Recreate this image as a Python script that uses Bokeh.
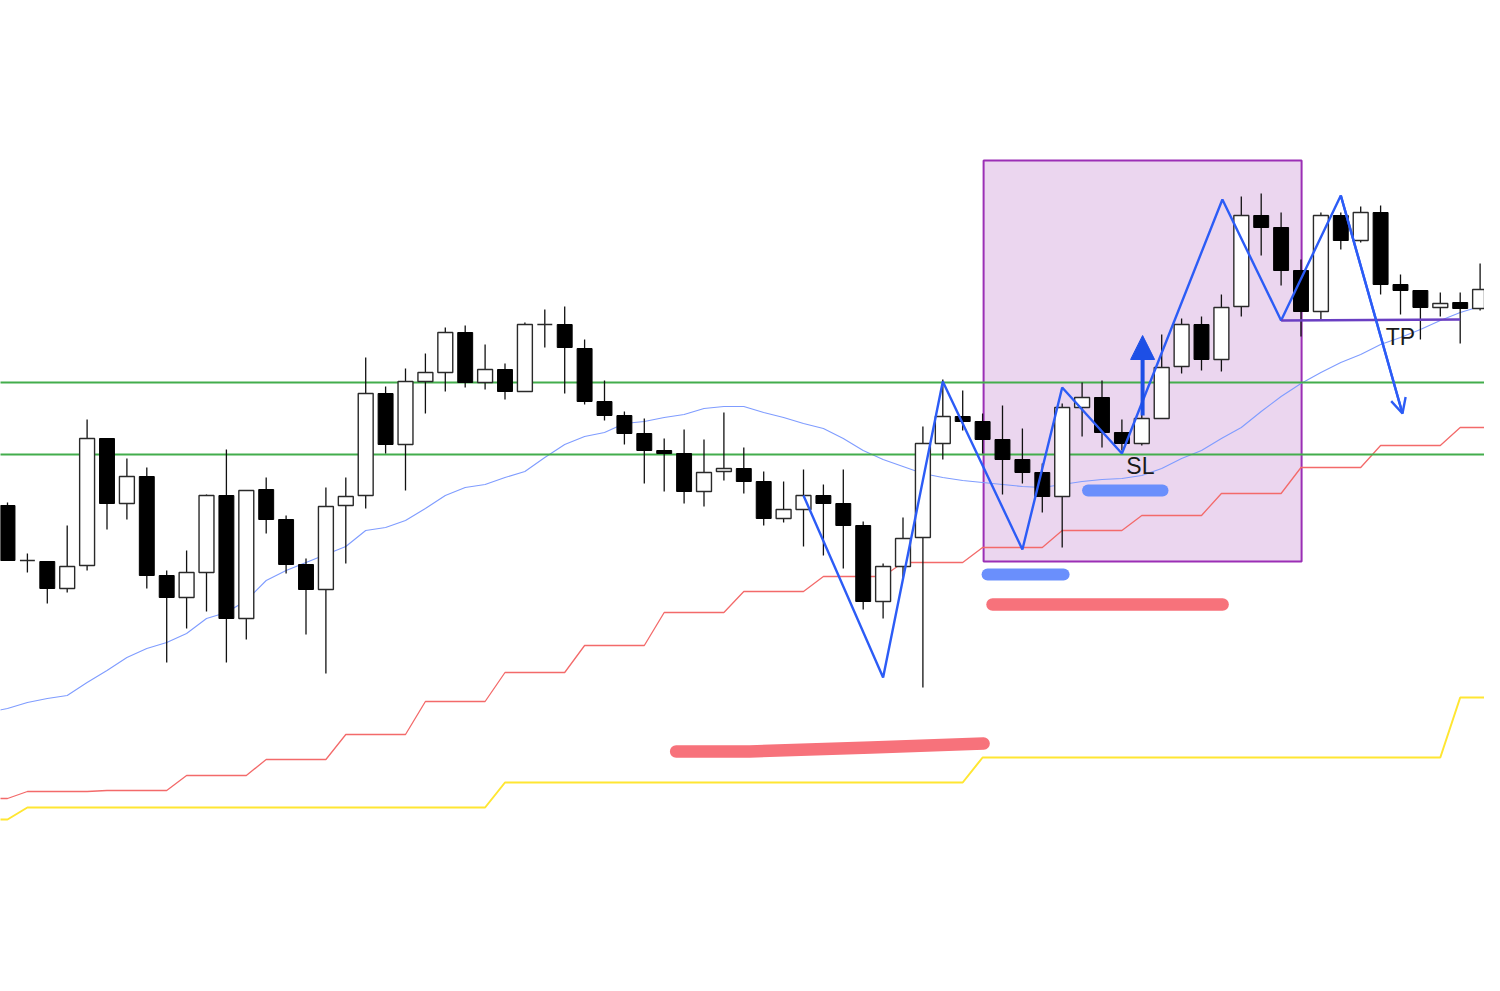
from bokeh.plotting import figure
from bokeh.models import Range1d, ColumnDataSource, Arrow, NormalHead, OpenHead
from bokeh.embed import file_html
from bokeh.resources import INLINE
from bokeh.core.properties import value

# ---------------- candle data (arbitrary price units) ----------------
open_ = [495, 440, 439, 412, 435, 562, 497, 524, 425, 403, 428, 505, 382, 511, 481, 436, 411, 495, 505, 607,
         556, 619, 628, 668, 618, 631, 609, 676, 676, 652, 599, 585, 567, 550, 547, 509, 529, 532, 519, 482,
         491, 505, 497, 475, 399, 434, 463, 557, 584, 579, 561, 541, 528, 504, 593, 603, 568, 557, 582, 634,
         676, 641, 694, 785, 773, 730, 689, 785, 760, 788, 716, 710, 693, 698, 692, 711]
high = [498, 447, 439, 475, 581, 562, 542, 533, 430, 450, 506, 551, 510, 523, 485, 442, 513, 523, 643, 614,
        632, 647, 673, 675, 656, 637, 678, 691, 694, 661, 620, 589, 582, 562, 571, 561, 588, 553, 529, 519,
        531, 516, 531, 479, 437, 483, 574, 621, 610, 587, 595, 572, 537, 597, 618, 620, 581, 634, 666, 682,
        684, 706, 804, 807, 788, 741, 788, 788, 794, 795, 726, 710, 708, 708, 737, 711]
low = [440, 428, 397, 408, 430, 471, 481, 412, 338, 372, 389, 338, 361, 467, 427, 366, 327, 437, 492, 547,
       510, 587, 609, 613, 611, 601, 609, 653, 607, 596, 580, 556, 517, 509, 497, 494, 520, 507, 475, 478,
       454, 445, 432, 391, 382, 423, 313, 541, 570, 547, 506, 517, 488, 453, 564, 553, 550, 555, 582, 627,
       630, 629, 684, 745, 715, 664, 681, 751, 758, 706, 686, 661, 684, 657, 690, 622]
close = [440, 440, 412, 434, 562, 497, 524, 425, 403, 428, 505, 382, 510, 481, 436, 411, 494, 504, 607, 556,
         619, 628, 668, 618, 631, 609, 676, 676, 653, 599, 585, 567, 550, 547, 509, 528, 532, 519, 482, 491,
         505, 497, 475, 399, 434, 462, 557, 584, 579, 561, 541, 528, 504, 593, 603, 568, 557, 582, 633, 676,
         641, 693, 785, 773, 730, 689, 785, 760, 788, 716, 710, 693, 697, 692, 711, 622]

# ---------------- indicator lines (index -1 .. 75) ----------------
ma_fast = [712, 708, 702, 698, 695, 682, 670, 657, 648, 642, 633, 618, 612, 600, 580, 570, 562, 554, 546, 530,
           527, 520, 508, 495, 487, 484, 477, 471, 457, 444, 436, 432, 423, 421, 417, 414, 408, 406, 406, 412,
           417, 423, 428, 438, 450, 459, 466, 473, 477, 480, 482, 484, 486, 487, 484, 481, 479, 478, 475, 468,
           458, 450, 438, 427, 411, 396, 383, 372, 362, 354, 344, 337, 329, 320, 312, 306, 303]
ma_fast = [1000 - v for v in ma_fast]
ma_step = ([202, 202] + [209] * 4 + [210] * 4 + [225] * 4 + [241] * 4 + [266] * 4 + [299] * 4 + [328] * 4
           + [355] * 4 + [388] * 4 + [409] * 4 + [424] * 4 + [438] * 4 + [453] * 4 + [470] * 4 + [485] * 4
           + [507] * 4 + [533] * 4 + [555] * 4 + [573] * 3)
ma_slow = [181, 181] + [193] * 24 + [218] * 24 + [243] * 24 + [303] * 3
ind_x = list(range(-1, 76))

# ---------------- annotations ----------------
levels = [618, 546]
zig_x = [40, 44, 47, 51, 53, 56, 61.05, 64, 67, 70.1]
zig_y = [505, 323, 619, 451, 613, 547, 801, 680, 805, 587]
zone = dict(left=49.05, right=65.03, bottom=439, top=840)
tp_x = [64, 73]
tp_y = [680, 681]
blue_bars = [([54.3, 58.04], [510, 510]), ([49.25, 53.07], [426, 426])]
red_bars = [([49.5, 61.06], [396, 396]), ([33.6, 37.3, 43.4, 49.05], [249, 249, 253, 257])]
up_arrow = dict(x=57.04, y0=585, y1=665)
labels_x = [56.93, 70.0]
labels_y = [535, 664]
labels = ["SL", "TP"]

idx = list(range(len(open_)))
bull = [i for i in idx if close[i] >= open_[i]]
bear = [i for i in idx if close[i] < open_[i]]


def sub(ids):
    return ColumnDataSource(dict(
        x=[idx[i] for i in ids],
        top=[max(open_[i], close[i]) for i in ids],
        bottom=[min(open_[i], close[i]) for i in ids],
        high=[high[i] for i in ids],
        low=[low[i] for i in ids],
    ))


W, H = 1484, 975
p = figure(width=W, height=H,
           x_range=Range1d(-7 / 19.9, (W - 7) / 19.9), y_range=Range1d(1000 - H, 1000),
           output_backend="svg", toolbar_location=None, min_border=0,
           x_axis_location=None, y_axis_location=None)
p.xgrid.visible = False
p.ygrid.visible = False
p.outline_line_color = None
p.background_fill_color = "white"

# zone
p.quad(left=[zone["left"]], right=[zone["right"]], bottom=[zone["bottom"]], top=[zone["top"]],
       fill_color="#ebd6ef", line_color="#9b2fb5", line_width=2)

# indicator lines
p.line(ind_x, ma_slow, line_color="#ffe632", line_width=2)
p.line(ind_x, ma_step, line_color="#f36a6a", line_width=1.3)
p.line(ind_x, ma_fast, line_color="#7f9cff", line_width=1.1)
for lv in levels:
    p.line([-1, 76], [lv, lv], line_color="#43ad4c", line_width=1.8)

# candles
src_bull = sub(bull)
src_bear = sub(bear)
for s in (src_bull, src_bear):
    p.segment(x0="x", y0="low", x1="x", y1="high", source=s, line_color="#111111", line_width=1.3)
p.vbar(x="x", top="top", bottom="bottom", width=0.75, source=src_bull,
       fill_color="white", line_color="#2a2a2a", line_width=1.4)
p.vbar(x="x", top="top", bottom="bottom", width=0.75, source=src_bear,
       fill_color="black", line_color="black", line_width=1.0)

# zigzag
p.line(zig_x, zig_y, line_color="#2c5cf6", line_width=2.4)
p.add_layout(Arrow(end=OpenHead(size=15, line_color="#2c5cf6", line_width=2.4),
                   x_start=zig_x[-2], y_start=zig_y[-2], x_end=zig_x[-1], y_end=zig_y[-1],
                   line_color="#2c5cf6", line_width=2.4))

# TP line
p.line(tp_x, tp_y, line_color="#6a3fc2", line_width=2.4)

# marker bars
for bx, by in blue_bars:
    p.line(bx, by, line_color="#6a8ffc", line_width=12, line_cap="round")
for bx, by in red_bars:
    p.line(bx, by, line_color="#f7727b", line_width=12.5, line_cap="round", line_join="round")

# up arrow
p.add_layout(Arrow(end=NormalHead(size=24, fill_color="#1d4fe6", line_color="#1d4fe6"),
                   x_start=up_arrow["x"], y_start=up_arrow["y0"], x_end=up_arrow["x"], y_end=up_arrow["y1"],
                   line_color="#1d4fe6", line_width=4))

# labels
p.text(x=labels_x, y=labels_y, text=labels, text_font=value("Liberation Sans"), text_font_size="23px",
       text_align="center", text_baseline="middle", text_color="#1a1a1a")

open("out.html", "w").write(file_html(p, INLINE))
